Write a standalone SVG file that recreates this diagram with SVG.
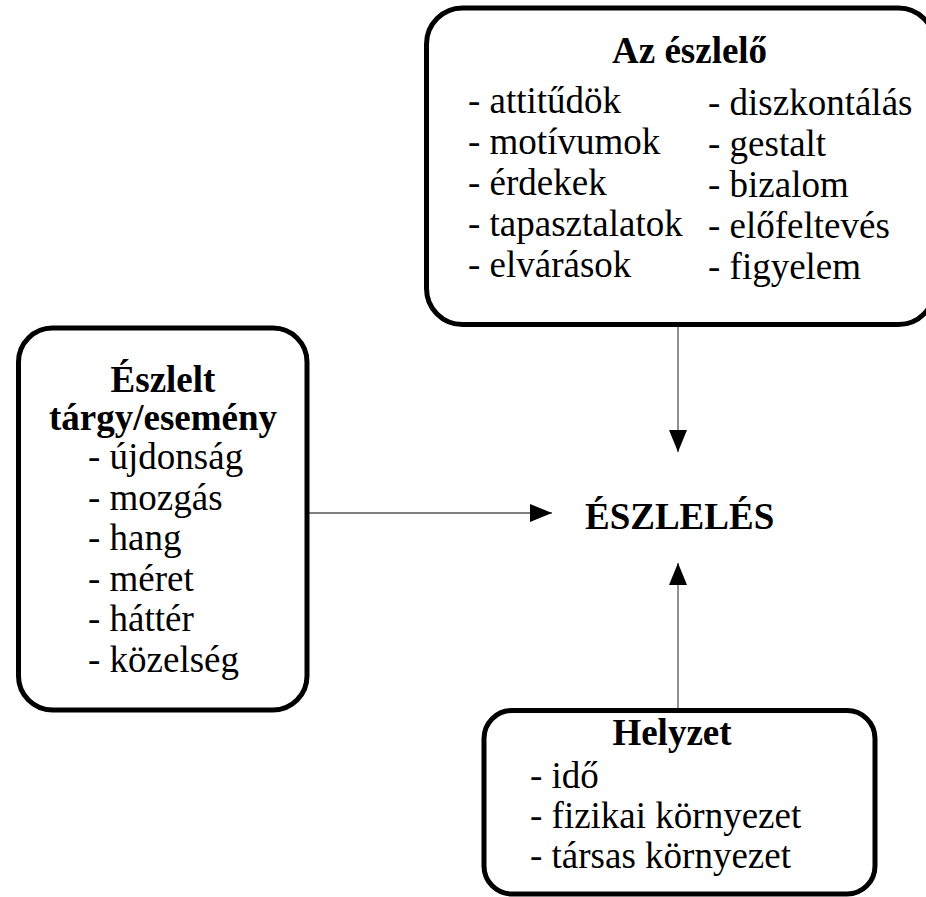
<svg xmlns="http://www.w3.org/2000/svg" width="926" height="897" viewBox="0 0 926 897">
  <defs>
    <!-- solid triangular arrowhead shared by all connectors -->
    <marker id="arrow" markerUnits="userSpaceOnUse" markerWidth="22" markerHeight="18" refX="22" refY="9" orient="auto">
      <path d="M0,0 L22,9 L0,18 Z" fill="#000000"/>
    </marker>
  </defs>
  <rect width="926" height="897" fill="#ffffff"/>

  <!-- connectors -->
  <g id="connectors" stroke="#555555" stroke-width="1.3" fill="none" marker-end="url(#arrow)">
    <line x1="678" y1="327" x2="678" y2="452"/>
    <line x1="309" y1="513" x2="552" y2="513"/>
    <line x1="678" y1="708" x2="678" y2="563"/>
  </g>

  <!-- perceiver -->
  <g id="eszlelo">
    <rect x="426.5" y="8" width="508" height="316.5" rx="36" ry="36" fill="#ffffff" stroke="#000000" stroke-width="5"/>
    <text x="612" y="63" font-family="Liberation Serif" font-size="37px" font-weight="bold">Az észlelő</text>
    <g font-family="serif" font-size="37px">
      <text x="468" y="112.5">- attitűdök</text>
      <text x="468" y="153.5">- motívumok</text>
      <text x="468" y="194.5">- érdekek</text>
      <text x="468" y="235.5">- tapasztalatok</text>
      <text x="468" y="276.5">- elvárások</text>
      <text x="708" y="114.5">- diszkontálás</text>
      <text x="708" y="155.5">- gestalt</text>
      <text x="708" y="196.5">- bizalom</text>
      <text x="708" y="237.5">- előfeltevés</text>
      <text x="708" y="278.5">- figyelem</text>
    </g>
  </g>

  <!-- perceived object / event -->
  <g id="targy">
    <rect x="18.5" y="328" width="288.5" height="382" rx="34" ry="34" fill="#ffffff" stroke="#000000" stroke-width="5"/>
    <g font-family="Liberation Serif" font-size="37px" font-weight="bold" text-anchor="middle">
      <text x="163" y="392">Észlelt</text>
      <text x="163" y="430">tárgy/esemény</text>
    </g>
    <g font-family="Tinos" font-size="37px" font-weight="400">
      <text x="88" y="469">- újdonság</text>
      <text x="88" y="509.5">- mozgás</text>
      <text x="88" y="550">- hang</text>
      <text x="88" y="590.5">- méret</text>
      <text x="88" y="631">- háttér</text>
      <text x="88" y="671.5">- közelség</text>
    </g>
  </g>

  <!-- perception -->
  <g id="eszleles">
    <text x="585" y="529" font-family="Liberation Serif" font-size="37px" font-weight="bold">ÉSZLELÉS</text>
  </g>

  <!-- situation -->
  <g id="helyzet">
    <rect x="484" y="710.5" width="391" height="183.5" rx="28" ry="28" fill="#ffffff" stroke="#000000" stroke-width="5"/>
    <text x="672" y="745" font-family="Liberation Serif" font-size="37px" font-weight="bold" text-anchor="middle">Helyzet</text>
    <g style="font-family: 'Liberation Serif'; font-size: 37px; font-weight: normal;">
      <text x="530" y="788">- idő</text>
      <text x="530" y="828">- fizikai környezet</text>
      <text x="530" y="868">- társas környezet</text>
    </g>
  </g>
</svg>
